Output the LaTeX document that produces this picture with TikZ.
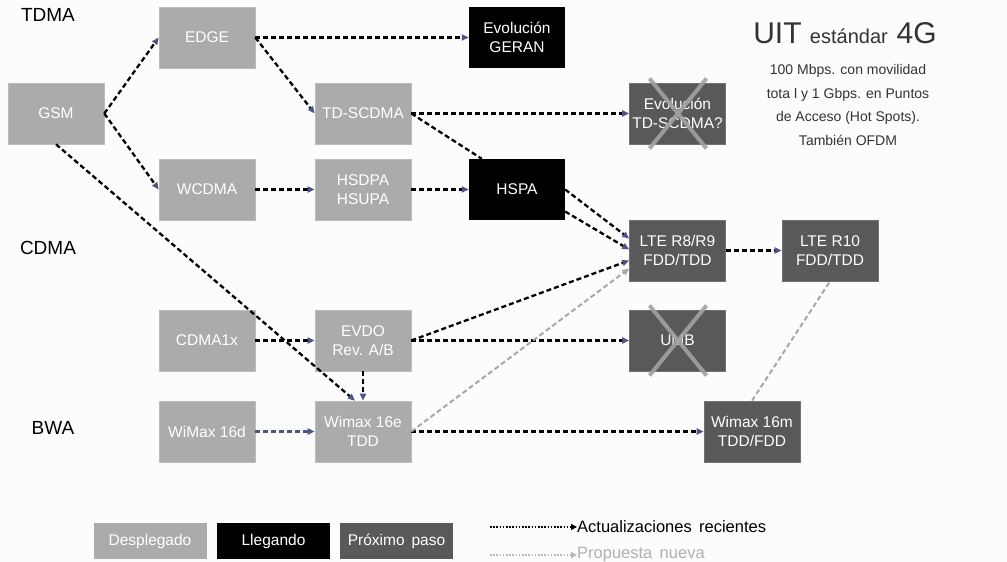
\documentclass[tikz,border=0pt]{standalone}
\usepackage{fontspec}
\setmainfont{Liberation Sans}
\usetikzlibrary{arrows.meta,calc}
\definecolor{bg}{HTML}{FCFCFC}
\definecolor{lightbox}{HTML}{ABABAB}
\definecolor{darkbox}{HTML}{595959}
\definecolor{arrowblue}{HTML}{4F5488}
\definecolor{propgray}{HTML}{A8A8A8}
\definecolor{crossgray}{HTML}{A2A2A2}
\definecolor{titlegray}{HTML}{333333}
\tikzset{
  box/.style={rectangle, minimum width=96pt, minimum height=61pt, inner sep=0pt,
    align=center, text=white, font=\fontsize{15.5}{19}\selectfont},
  deployed/.style={box, fill=lightbox, draw=lightbox!80!white, line width=0.6pt},
  arriving/.style={box, fill=black},
  nextstep/.style={box, fill=darkbox, draw=darkbox!85!white, line width=0.6pt},
  legbox/.style={rectangle, minimum width=113pt, minimum height=36pt, inner sep=0pt,
    text=white, font=\fontsize{15.5}{17}\selectfont},
  upd/.style={draw=black, line width=2.3pt, dash pattern=on 5pt off 3pt,
    -{Triangle[length=7pt,width=6pt,color=arrowblue]}},
  updline/.style={draw=black, line width=2.3pt, dash pattern=on 5pt off 3pt},
  updblue/.style={draw=arrowblue, line width=2.3pt, dash pattern=on 5pt off 3pt,
    -{Triangle[length=7pt,width=6pt,color=arrowblue]}},
  prop/.style={draw=propgray, line width=2pt, dash pattern=on 5pt off 3pt,
    -{Triangle[length=7pt,width=6pt,color=propgray]}},
  propline/.style={draw=propgray, line width=2pt, dash pattern=on 5pt off 3pt},
  cross/.style={draw=crossgray, line width=4pt, opacity=0.9},
  tech/.style={font=\fontsize{19}{22}\selectfont, text=black, inner sep=0pt},
  legline/.style={line width=2pt, dash pattern=on 1.6pt off 1.6pt},
}
\begin{document}
\begin{tikzpicture}[x=1pt,y=-1pt]
\fill[bg] (0,0) rectangle (1007,562);
\useasboundingbox (0,0) rectangle (1007,562);

% technology labels
\node[tech] (tdma) at (48,15) {TDMA};
\node[tech] (cdma) at (48,248) {CDMA};
\node[tech] (bwa) at (53,428) {BWA};

% boxes
\node[deployed] (gsm) at (56,113.5) {GSM};
\node[deployed] (edge) at (207,37.5) {EDGE};
\node[deployed] (wcdma) at (207,189.5) {WCDMA};
\node[deployed] (tdscdma) at (363,113.5) {TD-SCDMA};
\node[deployed] (hsdpa) at (363,189.5) {HSDPA\\HSUPA};
\node[arriving] (geran) at (517,37.5) {Evolución\\GERAN};
\node[arriving] (hspa) at (517,189.5) {HSPA};
\node[nextstep] (evtd) at (677.5,113.5) {Evolución\\TD-SCDMA?};
\node[nextstep] (lte8) at (677.5,250.5) {LTE R8/R9\\FDD/TDD};
\node[nextstep] (lte10) at (830,250.5) {LTE R10\\FDD/TDD};
\node[deployed] (cdma1x) at (207,340.5) {CDMA1x};
\node[deployed] (evdo) at (363,340.5) {EVDO\\Rev. A/B};
\node[nextstep] (umb) at (677.5,340.5) {UMB};
\node[deployed] (w16d) at (207,431.5) {WiMax 16d};
\node[deployed] (w16e) at (363,431.5) {Wimax  16e\\TDD};
\node[nextstep] (w16m) at (752,431.5) {Wimax  16m\\TDD/FDD};

% crosses
\draw[cross] ($(evtd.center)+(-28,-35)$) -- ($(evtd.center)+(29,35)$);
\draw[cross] ($(evtd.center)+(29,-35)$) -- ($(evtd.center)+(-28,35)$);
\draw[cross] ($(umb.center)+(-28,-35)$) -- ($(umb.center)+(29,35)$);
\draw[cross] ($(umb.center)+(29,-35)$) -- ($(umb.center)+(-28,35)$);

% update connectors
\draw[upd] (gsm.east) -- (edge.west);
\draw[upd] (gsm.east) -- (wcdma.west);
\draw[upd] (gsm.south) -- ($(w16e.north)+(-8,0)$);
\draw[upd] (edge.east) -- (geran.west);
\draw[upd] (edge.east) -- (tdscdma.west);
\draw[upd] (tdscdma.east) -- (evtd.west);
\draw[updline] (tdscdma.east) -- ($(hspa.north west)+(13,0)$);
\draw[upd] (wcdma.east) -- (hsdpa.west);
\draw[upd] (hsdpa.east) -- (hspa.west);
\draw[upd] (hspa.east) -- ($(lte8.west)+(0,-12)$);
\draw[upd] ($(hspa.east)+(0,22)$) -- ($(lte8.west)+(0,-1)$);
\draw[upd] (lte8.east) -- (lte10.west);
\draw[upd] (evdo.east) -- ($(lte8.west)+(0,10)$);
\draw[upd] (evdo.east) -- (umb.west);
\draw[upd] (evdo.south) -- (w16e.north);
\draw[upd] (cdma1x.east) -- (evdo.west);
\draw[updblue] (w16d.east) -- (w16e.west);
\draw[upd] (w16e.east) -- (w16m.west);

% proposal connectors
\draw[prop] (w16e.east) -- ($(lte8.west)+(0,18)$);
\draw[propline] (w16m.north) -- (lte10.south);

% title
\node[anchor=base, text=titlegray, inner sep=0pt] (title) at (845,43)
  {\fontsize{30}{32}\selectfont UIT \fontsize{20}{22}\selectfont estándar\, \fontsize{30}{32}\selectfont 4G};
\node[anchor=north, text=titlegray, align=center, inner sep=0pt,
  font=\fontsize{14}{23.8}\selectfont] (sub) at (848,64)
  {100 Mbps. con movilidad\\tota l y 1 Gbps. en Puntos\\de Acceso (Hot Spots).\\También OFDM};

% legend
\node[legbox, fill=lightbox] (lg1) at (150,541) {Desplegado};
\node[legbox, fill=black] (lg2) at (273.5,541) {Llegando};
\node[legbox, fill=darkbox] (lg3) at (396.5,541) {Próximo\, paso};

\coordinate (la1) at (490,527);
\node[anchor=west, inner sep=0pt, font=\fontsize{16.5}{18}\selectfont] (lt1) at (577,527) {Actualizaciones\, recientes};
\draw[legline, black, -{Triangle[length=6pt,width=6pt]}] (la1) -- (lt1.west);
\coordinate (lb1) at (490,555);
\node[anchor=west, inner sep=0pt, text=propgray!90!white, font=\fontsize{16.5}{18}\selectfont] (lt2) at (577,555) {Propuesta\, nueva};
\draw[legline, propgray!80!white, -{Triangle[length=6pt,width=6pt]}] (lb1) -- (lt2.west);
\end{tikzpicture}
\end{document}
